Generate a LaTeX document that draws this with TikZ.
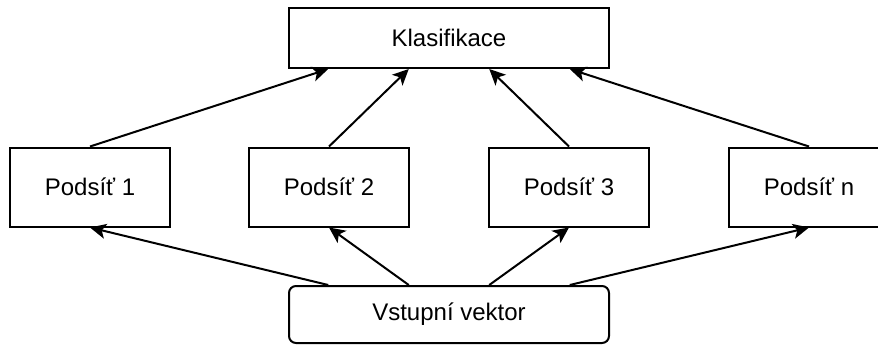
\documentclass[tikz,border=0pt]{standalone}
\usepackage{fontspec}
\setmainfont{Liberation Sans}
\usepackage{tikz}
\usetikzlibrary{arrows.meta,positioning,calc}
\tikzset{
  subnet/.style  ={draw,line width=1pt,align=center,font=\fontsize{12}{14}\selectfont,
                   minimum width=80pt,minimum height=39.5pt,inner sep=0pt},
  classbox/.style={subnet,minimum width=160pt,minimum height=30pt},
  inbox/.style   ={subnet,rounded corners=3.5pt,minimum width=160pt,minimum height=28.5pt},
  arr/.style     ={-{Stealth[length=8pt,width=7.5pt,inset=2pt]},line width=1pt},
}
\begin{document}
\begin{tikzpicture}[x=0.5pt,y=-0.5pt]
\useasboundingbox (0,0) rectangle (878,344);
\clip (0,0) rectangle (878,344);

% --- classification ---------------------------------------------------------
\node[classbox] (kl) at (449,38) {Klasifikace};

% --- subnets ----------------------------------------------------------------
\node[subnet] (p1) at (90,187)  {Podsíť 1};
\node[subnet] (p2) at (329,187) {Podsíť 2};
\node[subnet] (p3) at (569,187) {Podsíť 3};
\node[subnet] (pn) at (809,187) {Podsíť n};

% --- input ------------------------------------------------------------------
\node[inbox] (vs) at (449,314.5) {Vstupní vektor};

% --- arrows -----------------------------------------------------------------
\draw[arr] (p1.north) -- ($(kl.south west)!0.125!(kl.south east)$);
\draw[arr] (p2.north) -- ($(kl.south west)!0.375!(kl.south east)$);
\draw[arr] (p3.north) -- ($(kl.south west)!0.625!(kl.south east)$);
\draw[arr] (pn.north) -- ($(kl.south west)!0.875!(kl.south east)$);

\draw[arr] ($(vs.north west)!0.125!(vs.north east)$) -- (p1.south);
\draw[arr] ($(vs.north west)!0.375!(vs.north east)$) -- (p2.south);
\draw[arr] ($(vs.north west)!0.625!(vs.north east)$) -- (p3.south);
\draw[arr] ($(vs.north west)!0.875!(vs.north east)$) -- (pn.south);

\end{tikzpicture}
\end{document}
